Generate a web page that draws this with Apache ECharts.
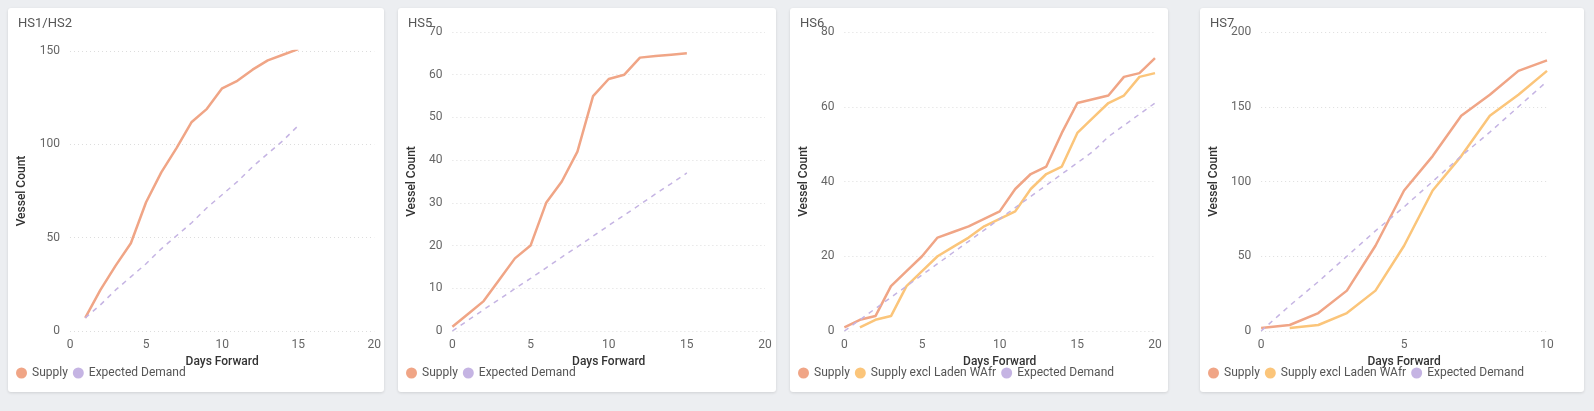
<!DOCTYPE html>
<html>
<head>
<meta charset="utf-8">
<script src="https://cdn.jsdelivr.net/npm/echarts@6/dist/echarts.min.js"></script>
<style>
  body{margin:0;background:#eceef1;width:1594px;height:411px;position:relative;overflow:hidden;font-family:Roboto,sans-serif;}
  .card{position:absolute;top:8px;height:384px;background:#fff;border-radius:3px;box-shadow:0 1px 3px rgba(0,0,0,0.12);}
</style>
</head>
<body>
<div class="card" id="c1" style="left:8px;width:376px"></div>
<div class="card" id="c2" style="left:398px;width:378px"></div>
<div class="card" id="c3" style="left:790px;width:378px"></div>
<div class="card" id="c4" style="left:1200px;width:384px"></div>
<script>
// ======数据======
var hs12_days = [1,2,3,4,5,6,7,8,9,10,11,12,13,14,15];
var hs12_supply = [7,22,35,47,69,85,98,112,119,130,134,140,145,148,151];
var hs12_demand = [7,14,22,29,36,44,51,58,66,73,80,88,95,102,110];

var hs5_days = [0,1,2,3,4,5,6,7,8,9,10,11,12,13,14,15];
var hs5_supply = [1,4,7,12,17,20,30,35,42,55,59,60,64,64.4,64.7,65];
var hs5_demand = [0,2.5,5,7.4,9.9,12.3,14.8,17.3,19.7,22.2,24.7,27.1,29.6,32.1,34.5,37];

var hs6_days = [0,1,2,3,4,5,6,7,8,9,10,11,12,13,14,15,16,17,18,19,20];
var hs6_supply = [1,3,4,12,16,20,25,26.5,28,30,32,38,42,44,53,61,62,63,68,69,73];
var hs6_excl = [null,1,3,4,12,16,20,22.5,25,28,30,32,38,42,44,53,57,61,63,68,69];
var hs6_demand = [0,3,6,9,12,15,18,21,24,27,30,33,36,39,42,45,48,52,55,58,61];

var hs7_days = [0,1,2,3,4,5,6,7,8,9,10];
var hs7_supply = [2,4,12,27,57,94,117,144,158,174,181];
var hs7_excl = [null,2,4,12,27,57,94,117,144,158,174];
var hs7_demand = [0,17,33,50,67,83,100,117,133,150,167];

var C_SUPPLY = '#F0A586', C_EXCL = '#FBC57A', C_DEMAND = '#C5B4E3';

function pairs(x, y){
  var out = [];
  for (var i = 0; i < x.length; i++) if (y[i] != null) out.push([x[i], y[i]]);
  return out;
}

function buildOption(cfg){
  var series = [{name:'Supply', type:'line', data:pairs(cfg.days, cfg.supply), color:C_SUPPLY,
                 showSymbol:false, lineStyle:{width:2.5}}];
  if (cfg.excl) series.push({name:'Supply excl Laden WAfr', type:'line', data:pairs(cfg.days, cfg.excl),
                 color:C_EXCL, showSymbol:false, lineStyle:{width:2.5}});
  series.push({name:'Expected Demand', type:'line', data:pairs(cfg.days, cfg.demand), color:C_DEMAND,
                 showSymbol:false, lineStyle:{width:1.5, type:[5,5]}});
  return {
    animation:false,
    textStyle:{fontFamily:'Roboto'},
    title:{text:cfg.title, left:5, top:4, textStyle:{fontSize:13, fontWeight:'normal', color:'#555'}},
    legend:{left:3, bottom:8, icon:'circle', itemWidth:11, itemHeight:11, itemGap:5,
            textStyle:{color:'#555', fontSize:12}},
    grid:{left:cfg.left, right:cfg.right, top:cfg.top, bottom:61},
    xAxis:{type:'value', min:0, max:cfg.xmax, interval:5,
           name:'Days Forward', nameLocation:'middle', nameGap:23,
           nameTextStyle:{color:'#333', fontSize:12, fontWeight:500},
           axisLine:{show:false}, axisTick:{show:false}, splitLine:{show:false},
           axisLabel:{color:'#666', fontSize:12, margin:8}},
    yAxis:{type:'value', min:0, max:cfg.ymax, interval:cfg.yint,
           name:'Vessel Count', nameLocation:'middle', nameGap:cfg.nameGap,
           nameTextStyle:{color:'#333', fontSize:12, fontWeight:500},
           axisLine:{show:false}, axisTick:{show:false},
           axisLabel:{color:'#666', fontSize:12, margin:10},
           splitLine:{lineStyle:{color:'#ddd', type:[1,3]}}},
    series:series
  };
}

var hs12Chart = echarts.init(document.getElementById('c1'));
hs12Chart.setOption(buildOption({title:'HS1/HS2', days:hs12_days, supply:hs12_supply, demand:hs12_demand,
  xmax:20, ymax:150, yint:50, left:58, right:4, top:43, nameGap:42}));

var hs5Chart = echarts.init(document.getElementById('c2'));
hs5Chart.setOption(buildOption({title:'HS5', days:hs5_days, supply:hs5_supply, demand:hs5_demand,
  xmax:20, ymax:70, yint:10, left:54, right:11, top:24, nameGap:32}));

var hs6Chart = echarts.init(document.getElementById('c3'));
hs6Chart.setOption(buildOption({title:'HS6', days:hs6_days, supply:hs6_supply, excl:hs6_excl, demand:hs6_demand,
  xmax:20, ymax:80, yint:20, left:53, right:13, top:24, nameGap:27}));

var hs7Chart = echarts.init(document.getElementById('c4'));
hs7Chart.setOption(buildOption({title:'HS7', days:hs7_days, supply:hs7_supply, excl:hs7_excl, demand:hs7_demand,
  xmax:10, ymax:200, yint:50, left:39, right:37, top:24, nameGap:26}));
</script>
</body>
</html>
